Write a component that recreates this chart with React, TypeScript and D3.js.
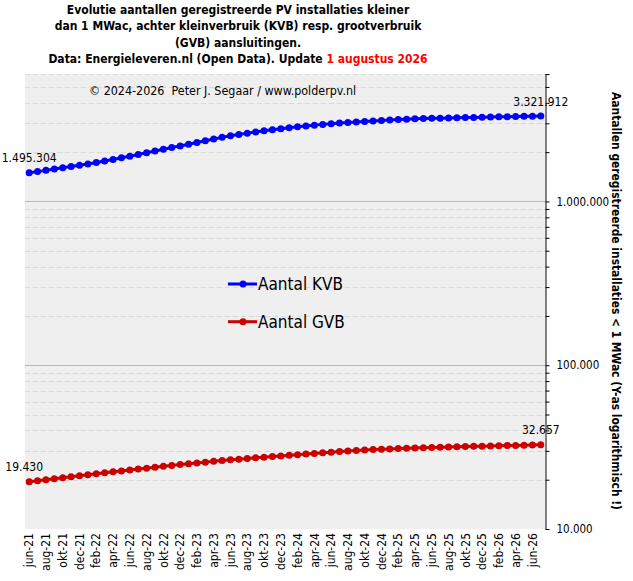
import React, { useEffect, useRef } from 'react'
import * as d3 from 'd3'

// maanden (laatste datapunt jul-26)
const months = [
  'jun-21', 'jul-21', 'aug-21', 'sep-21', 'okt-21', 'nov-21', 'dec-21',
  'jan-22', 'feb-22', 'mrt-22', 'apr-22', 'mei-22', 'jun-22', 'jul-22', 'aug-22', 'sep-22', 'okt-22', 'nov-22', 'dec-22',
  'jan-23', 'feb-23', 'mrt-23', 'apr-23', 'mei-23', 'jun-23', 'jul-23', 'aug-23', 'sep-23', 'okt-23', 'nov-23', 'dec-23',
  'jan-24', 'feb-24', 'mrt-24', 'apr-24', 'mei-24', 'jun-24', 'jul-24', 'aug-24', 'sep-24', 'okt-24', 'nov-24', 'dec-24',
  'jan-25', 'feb-25', 'mrt-25', 'apr-25', 'mei-25', 'jun-25', 'jul-25', 'aug-25', 'sep-25', 'okt-25', 'nov-25', 'dec-25',
  'jan-26', 'feb-26', 'mrt-26', 'apr-26', 'mei-26', 'jun-26', 'jul-26',
]

// aantal installaties achter kleinverbruik aansluitingen
const kvb = [
  1495304, 1521000, 1548000, 1576000, 1604000, 1633000, 1663000,
  1694000, 1729000, 1766000, 1805000, 1846000, 1890000, 1936000, 1984000, 2034000, 2085000, 2133000, 2183000,
  2235000, 2290000, 2348000, 2406000, 2462000, 2516000, 2566000, 2613000, 2657000, 2699000, 2739000, 2777000,
  2817000, 2855000, 2891000, 2924000, 2955000, 2984000, 3011000, 3036000, 3060000, 3082000, 3103000, 3123000,
  3142000, 3160000, 3177000, 3193000, 3205000, 3216000, 3226000, 3235000, 3244000, 3252000, 3260000, 3268000,
  3276000, 3284000, 3292000, 3299000, 3307000, 3314000, 3321912,
]

// aantal installaties achter grootverbruik aansluitingen
const gvb = [
  19430, 19710, 19995, 20280, 20570, 20860, 21150,
  21440, 21735, 22030, 22330, 22630, 22930, 23230, 23530, 23830, 24130, 24430, 24730,
  25025, 25315, 25605, 25890, 26170, 26445, 26700, 26950, 27200, 27450, 27695, 27940,
  28180, 28420, 28675, 28930, 29185, 29440, 29695, 29945, 30190, 30390, 30560, 30710,
  30845, 30970, 31090, 31205, 31320, 31432, 31542, 31650, 31756, 31860, 31960, 32055,
  32145, 32233, 32318, 32403, 32488, 32573, 32657,
]

const seriesNames = ['Aantal KVB', 'Aantal GVB']
const seriesColors = ['#0000ff', '#cc0000']
const yLabelValues = [10000, 100000, 1000000]

const titleLines = [
  'Evolutie aantallen geregistreerde  PV installaties kleiner',
  'dan 1 MWac, achter kleinverbruik  (KVB) resp. grootverbruik',
  '(GVB) aansluitingen.',
]
const titleData = 'Data: Energieleveren.nl  (Open Data). Update '
const titleDate = '1 augustus  2026'
const copyright = '© 2024-2026  Peter J. Segaar / www.polderpv.nl'
const yTitle = 'Aantallen geregistreerde installaties < 1 MWac (Y-as logarithmisch !)'

const FONT = '"DejaVu Sans Condensed", "DejaVu Sans", sans-serif'

const App: React.FC = () => {
  const ref = useRef<SVGSVGElement>(null)

  useEffect(() => {
    const W = 633
    const H = 581
    const plot = { left: 25, right: 545, top: 74, bottom: 529 }

    const svg = d3.select(ref.current).attr('width', W).attr('height', H)
    svg.selectAll('*').remove()

    const nl = d3.formatLocale({ decimal: ',', thousands: '.', grouping: [3], currency: ['', ''] })
    const fmt = nl.format(',')

    const x = d3.scalePoint<string>().domain(months).range([plot.left, plot.right]).padding(0.5)
    const y = d3.scaleLog().domain([10000, 6000000]).range([plot.bottom, plot.top])

    svg.append('rect').attr('width', W).attr('height', H).attr('fill', '#ffffff')

    svg
      .append('rect')
      .attr('x', plot.left)
      .attr('y', plot.top)
      .attr('width', plot.right - plot.left)
      .attr('height', plot.bottom - plot.top)
      .attr('fill', '#efefef')

    // minor + major ticks
    const allTicks: number[] = []
    for (const dec of [10000, 100000, 1000000]) {
      for (let m = 1; m <= 9; m++) {
        const v = dec * m
        if (v <= 6000000) allTicks.push(v)
      }
    }

    const grid = svg.append('g')
    allTicks.forEach((v) => {
      if (v === 10000) return
      const major = yLabelValues.includes(v)
      const yy = Math.round(y(v)) + 0.5
      grid
        .append('line')
        .attr('x1', plot.left)
        .attr('x2', plot.right)
        .attr('y1', yy)
        .attr('y2', yy)
        .attr('stroke', major ? '#b8b8b8' : '#d9d9d9')
        .attr('stroke-width', 1)
        .attr('stroke-dasharray', major ? null : '5,3')
    })

    // right axis
    const axis = d3
      .axisRight(y)
      .tickValues(allTicks)
      .tickSize(4)
      .tickSizeOuter(0)
      .tickFormat((d) => (yLabelValues.includes(+d) ? fmt(+d) : ''))

    const ax = svg
      .append('g')
      .attr('transform', `translate(${plot.right + 0.5},0)`)
      .call(axis)
    ax.select('.domain').attr('stroke', '#000')
    ax.selectAll('.tick line').attr('stroke', '#000')
    ax.selectAll('.tick text')
      .attr('x', 11)
      .attr('fill', '#000')
      .style('font-family', FONT)
      .style('font-size', '11.5px')

    // x labels
    svg
      .append('g')
      .selectAll('text')
      .data(months.filter((_, i) => i % 2 === 0))
      .enter()
      .append('text')
      .attr('transform', (d) => `translate(${x(d)},${plot.bottom + 4}) rotate(-90)`)
      .attr('text-anchor', 'end')
      .attr('dy', '0.35em')
      .attr('fill', '#000')
      .style('font-family', FONT)
      .style('font-size', '12px')
      .text((d) => d)

    // series
    const series = [kvb, gvb]
    series.forEach((vals, si) => {
      const pts = vals.map((v, i) => [x(months[i]) as number, y(v)] as [number, number])
      svg
        .append('path')
        .attr('d', d3.line()(pts))
        .attr('fill', 'none')
        .attr('stroke', seriesColors[si])
        .attr('stroke-width', 3)
      svg
        .append('g')
        .selectAll('circle')
        .data(pts)
        .enter()
        .append('circle')
        .attr('cx', (d) => d[0])
        .attr('cy', (d) => d[1])
        .attr('r', 3.5)
        .attr('fill', seriesColors[si])

      const ends = [0, vals.length - 1]
      ends.forEach((i) => {
        // first GVB label sits a bit left of its point
        const dx = si === 1 && i === 0 ? -5 : 0
        svg
          .append('text')
          .attr('x', pts[i][0] + dx)
          .attr('y', pts[i][1] - 10.5)
          .attr('text-anchor', 'middle')
          .attr('fill', '#000')
          .style('font-family', FONT)
          .style('font-size', '12px')
          .text(fmt(vals[i]))
      })
    })

    // legend
    seriesNames.forEach((name, si) => {
      const ly = 284 + si * 37.7
      const g = svg.append('g')
      g.append('line')
        .attr('x1', 228)
        .attr('x2', 257)
        .attr('y1', ly)
        .attr('y2', ly)
        .attr('stroke', seriesColors[si])
        .attr('stroke-width', 3)
      g.append('circle').attr('cx', 243).attr('cy', ly).attr('r', 3.5).attr('fill', seriesColors[si])
      g.append('text')
        .attr('x', 258)
        .attr('y', ly + 6)
        .attr('fill', '#000')
        .style('font-family', FONT)
        .style('font-size', '17px')
        .text(name)
    })

    // copyright
    svg
      .append('text')
      .attr('x', 89)
      .attr('y', 95)
      .attr('fill', '#000')
      .style('font-family', FONT)
      .style('font-size', '12.4px')
      .style('white-space', 'pre')
      .text(copyright)

    // title
    const title = svg
      .append('g')
      .attr('text-anchor', 'middle')
      .style('font-family', FONT)
      .style('font-size', '12px')
      .style('font-weight', 'bold')
      .style('white-space', 'pre')
    titleLines.forEach((line, i) => {
      title
        .append('text')
        .attr('x', 238)
        .attr('y', 14 + i * 16.3)
        .attr('fill', '#000')
        .text(line)
    })
    const last = title.append('text').attr('x', 238).attr('y', 63).attr('fill', '#000')
    last.append('tspan').text(titleData)
    last.append('tspan').attr('fill', '#ff0000').text(titleDate)

    // y axis title
    svg
      .append('text')
      .attr('transform', 'translate(616,301) rotate(90)')
      .attr('text-anchor', 'middle')
      .attr('dy', '0.35em')
      .attr('fill', '#000')
      .style('font-family', FONT)
      .style('font-size', '11.9px')
      .style('font-weight', 'bold')
      .text(yTitle)
  }, [])

  return (
    <div style={{ position: 'absolute', left: 0, top: 0 }}>
      <svg ref={ref} style={{ display: 'block' }} />
    </div>
  )
}

export default App
